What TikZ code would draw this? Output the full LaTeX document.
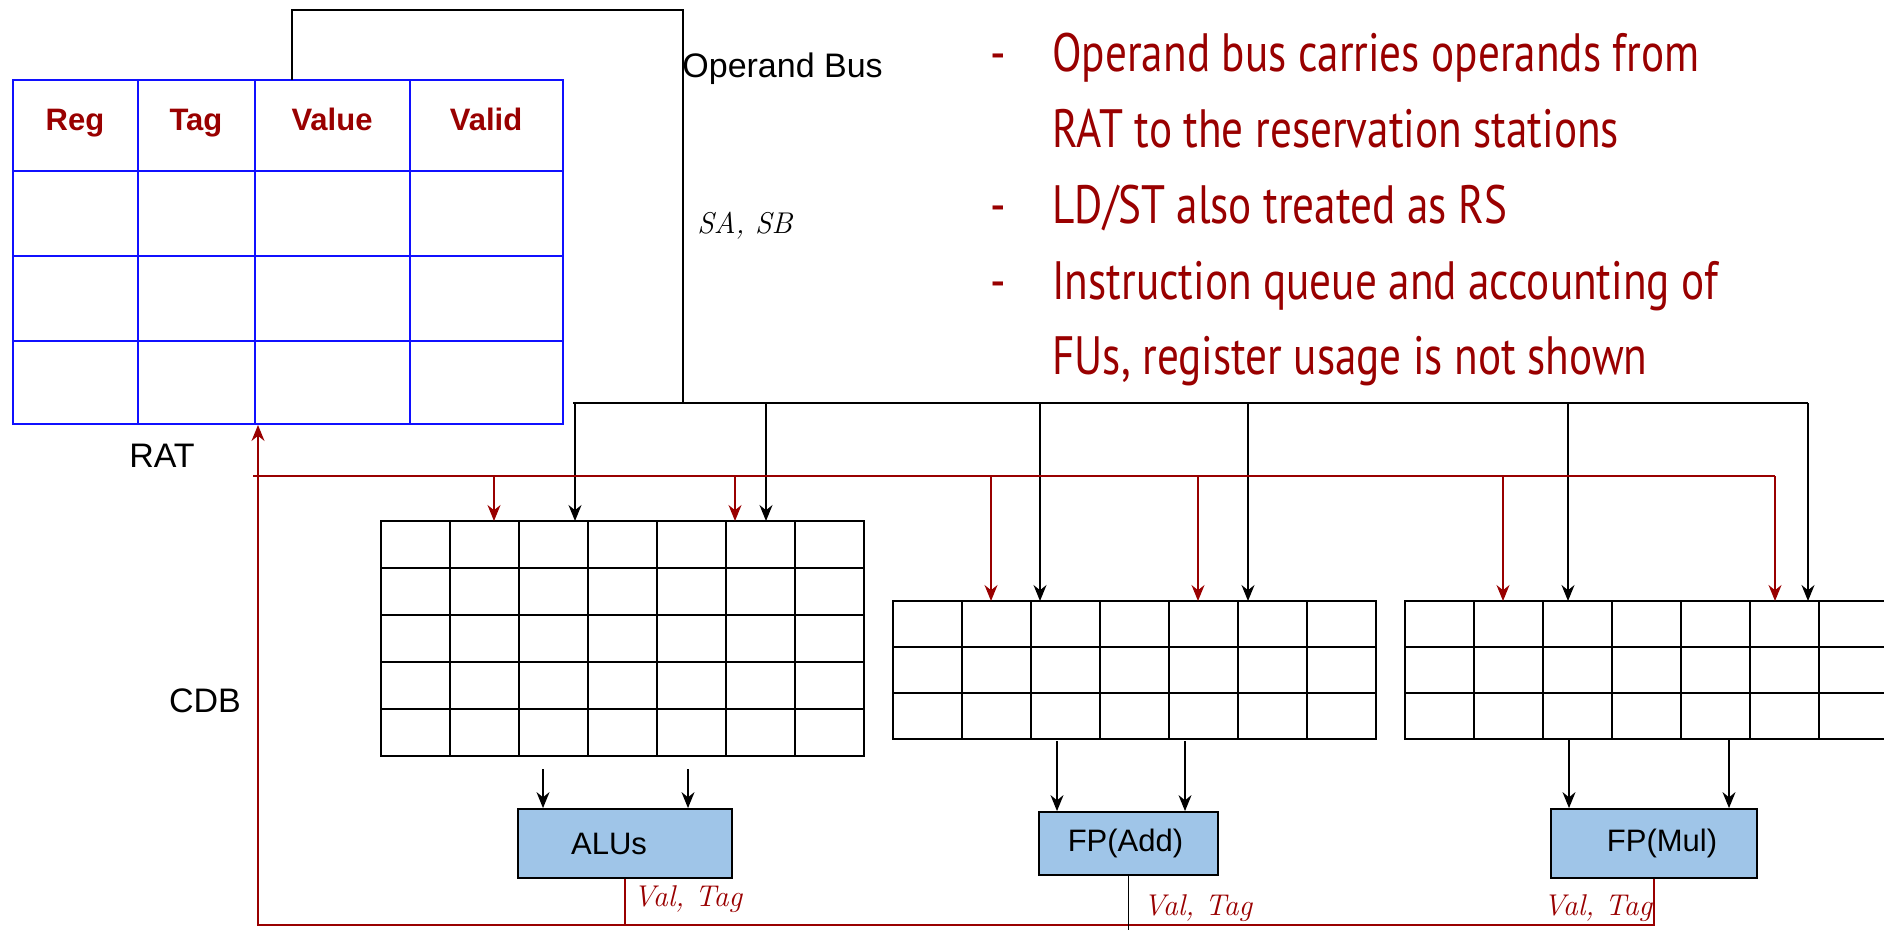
\documentclass[tikz,border=0pt]{standalone}
\usepackage{fontspec}
\setmainfont{Liberation Sans}
\newfontfamily\notefont[FakeStretch=0.8]{PT Sans}
\newcommand{\sigfont}{\fontfamily{lmr}\itshape}
\usetikzlibrary{arrows.meta}
\definecolor{darkred}{HTML}{990000}
\definecolor{ratblue}{HTML}{1010FF}
\definecolor{fublue}{HTML}{9FC5E8}

\begin{document}
\begin{tikzpicture}[x=0.5pt, y=-0.5pt, >={Stealth[length=8pt, width=6.5pt, inset=2.6pt]},
  ratline/.style={draw=ratblue, line width=0.9pt, line cap=rect},
  rsline/.style={line width=0.8pt, line cap=rect},
  bus/.style={line width=0.7pt},
  cdb/.style={draw=darkred, line width=0.7pt},
  fu/.style={draw, line width=0.9pt, fill=fublue},
  futext/.style={font=\fontsize{15.5}{18}\selectfont},
  head/.style={anchor=base, text=darkred, font=\bfseries\fontsize{15.5}{18}\selectfont},
  caption/.style={anchor=base, inner sep=0pt, font=\fontsize{17}{20}\selectfont},
  sig/.style={anchor=base west, inner sep=0pt, font=\sigfont\fontsize{15}{18}\selectfont},
  note/.style={anchor=base west, inner sep=0pt, text=darkred, font=\notefont\fontsize{27}{32}\selectfont}]

\useasboundingbox (0,0) rectangle (1884,930);

% register alias table
\draw[ratline] (13,80) rectangle (563,424);
\foreach \x in {138,255,410}
  \draw[ratline] (\x,80) -- (\x,424);
\foreach \y in {171,256,341}
  \draw[ratline] (13,\y) -- (563,\y);

\foreach \t/\x in {Reg/75, Tag/196, Value/332, Valid/486}
  \node[head] (head-\t) at (\x,131) {\t};

\node[caption] (rat-label) at (162,467) {RAT};
\node[caption] (cdb-label) at (205,712) {CDB};

% reservation stations
\foreach \rs/\x/\y/\r/\h in {alu/381/521/5/47, add/893/601/3/46, mul/1405/601/3/46} {
  \coordinate (rs-\rs) at (\x,\y);
  \foreach \i in {0,...,7}
    \draw[rsline] (\x+69*\i,\y) -- (\x+69*\i,\y+\r*\h);
  \foreach \j in {0,...,\r}
    \draw[rsline] (\x,\y+\j*\h) -- (\x+483,\y+\j*\h);
}

% functional units
\node[fu, minimum width=107pt, minimum height=34.5pt] (alu) at (625,843.5) {};
\node[fu, minimum width=89.5pt, minimum height=31.5pt] (add) at (1128.5,843.5) {};
\node[fu, minimum width=103pt, minimum height=34.5pt] (mul) at (1654,843.5) {};
\node[futext] (alu-text) at ([xshift=-8pt]alu) {ALUs};
\node[futext] (add-text) at ([xshift=-1.5pt]add) {FP(Add)};
\node[futext] (mul-text) at ([xshift=4pt]mul) {FP(Mul)};

% operand bus
\coordinate (rat-val) at (292,80);
\coordinate (op-top) at (683,10);
\coordinate (opbus) at (573,403);
\draw[bus] (rat-val) |- (op-top) -- (op-top |- opbus);
\draw[bus] (opbus) -- ++(1235,0);
\node[caption, anchor=base west] (op-label) at (682,78) {Operand Bus};
\node[sig] (sasb) at (697,234) {SA, SB};

\foreach \x/\n in {575/alu, 766/alu, 1040/add, 1248/add, 1568/mul, 1808/mul}
  \draw[bus, ->] (\x,0 |- opbus) -- (\x,0 |- rs-\n);

% common data bus
\coordinate (cdbbus) at (253,476);
\coordinate (cdb-corner) at (258,925);
\coordinate (rat-cdb) at (258,425);
\draw[cdb] (cdbbus) -- ++(1522,0);

\foreach \x/\n in {494/alu, 735/alu, 991/add, 1198/add, 1503/mul, 1775/mul}
  \draw[cdb, ->] (\x,0 |- cdbbus) -- (\x,0 |- rs-\n);

\draw[cdb, ->] (mul.south) |- (cdb-corner) -- (rat-cdb);
\draw[cdb] (alu.south) -- (alu.south |- cdb-corner);
\draw[bus] (add.south) -- ++(0,60);

% issue to the units
\foreach \fu/\y/\a/\b in {alu/769/543/688, add/741/1057/1185, mul/739/1569/1729}
  \foreach \x in {\a,\b}
    \draw[bus, ->] (\x,\y) -- (\x,\y |- \fu.north);

\foreach \x/\y [count=\i] in {633/906, 1143/915, 1543/915}
  \node[sig, text=darkred] (valtag-\i) at (\x,\y) {Val, Tag};

% notes
\foreach \t [count=\i] in {Operand bus carries operands from, RAT to the reservation stations,
    LD/ST also treated as RS, Instruction queue and accounting of, {FUs, register usage is not shown}}
  \node[note] (note-\i) at (1052,72+75.75*\i-75.75) {\t};

\foreach \i in {1,3,4}
  \node[note] (dash-\i) at (990,72+75.75*\i-75.75) {-};

\end{tikzpicture}
\end{document}
